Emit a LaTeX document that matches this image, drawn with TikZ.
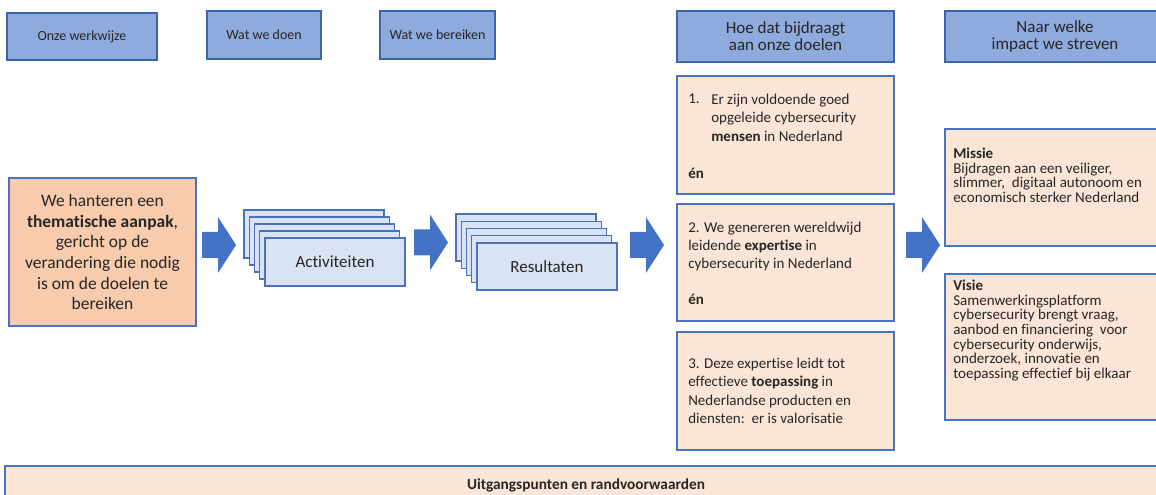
\documentclass[tikz,border=0pt]{standalone}
\usepackage{fontspec}
\setmainfont{Carlito}[Ligatures=NoCommon]
\definecolor{hdrfill}{HTML}{8FAADC}
\definecolor{hdrline}{HTML}{3C64A8}
\definecolor{peach}{HTML}{F8CBAD}
\definecolor{lightpeach}{HTML}{FBE5D6}
\definecolor{stackfill}{HTML}{DAE3F3}
\definecolor{boxline}{HTML}{4A72BE}
\definecolor{arrowblue}{HTML}{4472C4}
\definecolor{txt}{HTML}{262626}
\newcommand\blockarr[2]{\fill[arrowblue] (#1,#2-13) -- (#1+16,#2-13) -- (#1+16,#2-28) -- (#1+34,#2) -- (#1+16,#2+28) -- (#1+16,#2+13) -- (#1,#2+13) -- cycle;}
\newcommand\tightls{\lineskiplimit=-20pt\relax}
\newcommand\hdrSfont{\fontsize{10.5}{12.75}\selectfont}
\newcommand\hdrLfont{\fontsize{12.75}{12.75}\selectfont\tightls}
\newcommand\gfont{\fontsize{11.25}{13.65}\selectfont}
\newcommand\mfont{\fontsize{11.25}{10.95}\selectfont\tightls}
\begin{document}
\begin{tikzpicture}[x=0.75pt,y=-0.75pt,
  sz/.style 2 args={minimum width=#1*0.75pt, minimum height=#2*0.75pt},
  box/.style={draw=boxline, line width=1.1pt, inner sep=0pt, text=txt, rectangle},
  hdr/.style={box, fill=hdrfill, draw=hdrline, align=center},
  hdrS/.style={hdr, font=\hdrSfont},
  hdrL/.style={hdr, font=\hdrLfont},
  goal/.style={box, fill=lightpeach},
  stk/.style={box, fill=stackfill, font=\fontsize{12.75}{15}\selectfont},
  gtext/.style={inner sep=0pt, anchor=north west, align=left, text=txt, font=\gfont},
  mtext/.style={inner sep=0pt, anchor=north west, align=left, text=txt, font=\mfont}
]
\useasboundingbox (0,0) rectangle (1156,495);
\clip (0,0) rectangle (1156,495);

% headers
\node[hdrS, sz={150}{47}] (h1) at (82,36.5) {Onze werkwijze};
\node[hdrS, sz={114}{48}] (h2) at (264,35) {Wat we doen};
\node[hdrS, sz={115}{48}] (h3) at (437.5,35) {Wat we bereiken};
\node[hdrL, sz={217}{51}] (h4) at (785.5,36.5) {Hoe dat bijdraagt\\aan onze doelen};
\node[hdrL, sz={220}{51}] (h5) at (1055,36.5) {Naar welke\\impact we streven};

% approach
\node[box, fill=peach, sz={187}{148}, align=center,
  font=\fontsize{13.1}{15.5}\selectfont] (approach) at (102.5,252)
  {We hanteren een\\\textbf{thematische aanpak},\\gericht op de\\verandering die nodig\\is om de doelen te\\bereiken};

% activiteiten stack
\foreach \i in {0,...,3}
  \draw[box, fill=stackfill] (244+5.25*\i,210+7*\i) rectangle ++(140,48);
\node[stk, sz={140}{48}] (act) at (335,262) {Activiteiten};

% resultaten stack
\foreach \i in {0,...,3}
  \draw[box, fill=stackfill] (456+5.25*\i,214+7.25*\i) rectangle ++(140,47);
\node[stk, sz={140}{47}] (res) at (547,266.5) {Resultaten};

% block arrows
\blockarr{202}{245}
\blockarr{414}{242.5}
\blockarr{630}{245}
\blockarr{906}{245}

% goal boxes
\node[goal, sz={217}{118}] (g1) at (785.5,135) {};
\node[goal, sz={217}{117}] (g2) at (785.5,262.5) {};
\node[goal, sz={217}{118}] (g3) at (785.5,391) {};

\node[gtext] (g1n) at (688,94) {1.};
\node[gtext] (g1t) at (711,94) {Er zijn voldoende goed\\opgeleide cybersecurity\\\textbf{mensen} in Nederland};
\node[gtext] (g1e) at (688,168) {\textbf{én}};

\node[gtext] (g2t) at (688,221.5) {2. We genereren wereldwijd\\leidende \textbf{expertise} in\\cybersecurity in Nederland\\[13.65pt]\textbf{én}};

\node[gtext] (g3t) at (688,358) {3. Deze expertise leidt tot\\effectieve \textbf{toepassing} in\\Nederlandse producten en\\diensten:\ \ er is valorisatie};

% missie / visie
\node[goal, sz={225}{117}] (missie) at (1057.5,187.5) {};
\node[goal, sz={225}{146}] (visie) at (1057.5,347) {};
\node[mtext] (mt) at (953,148) {\textbf{Missie}\\Bijdragen aan een veiliger,\\slimmer,\ \ digitaal autonoom en\\economisch sterker Nederland};
\node[mtext] (vt) at (953,280) {\textbf{Visie}\\Samenwerkingsplatform\\cybersecurity brengt vraag,\\aanbod en financiering\ \ voor\\cybersecurity onderwijs,\\onderzoek, innovatie en\\toepassing effectief bij elkaar};

% bottom
\node[goal, sz={1162}{49}] (bottom) at (586,490.5) {};
\node[inner sep=0pt, text=txt, font=\bfseries\fontsize{11.5}{13}\selectfont] (bt) at (586,485.5) {Uitgangspunten en randvoorwaarden};
\end{tikzpicture}
\end{document}
